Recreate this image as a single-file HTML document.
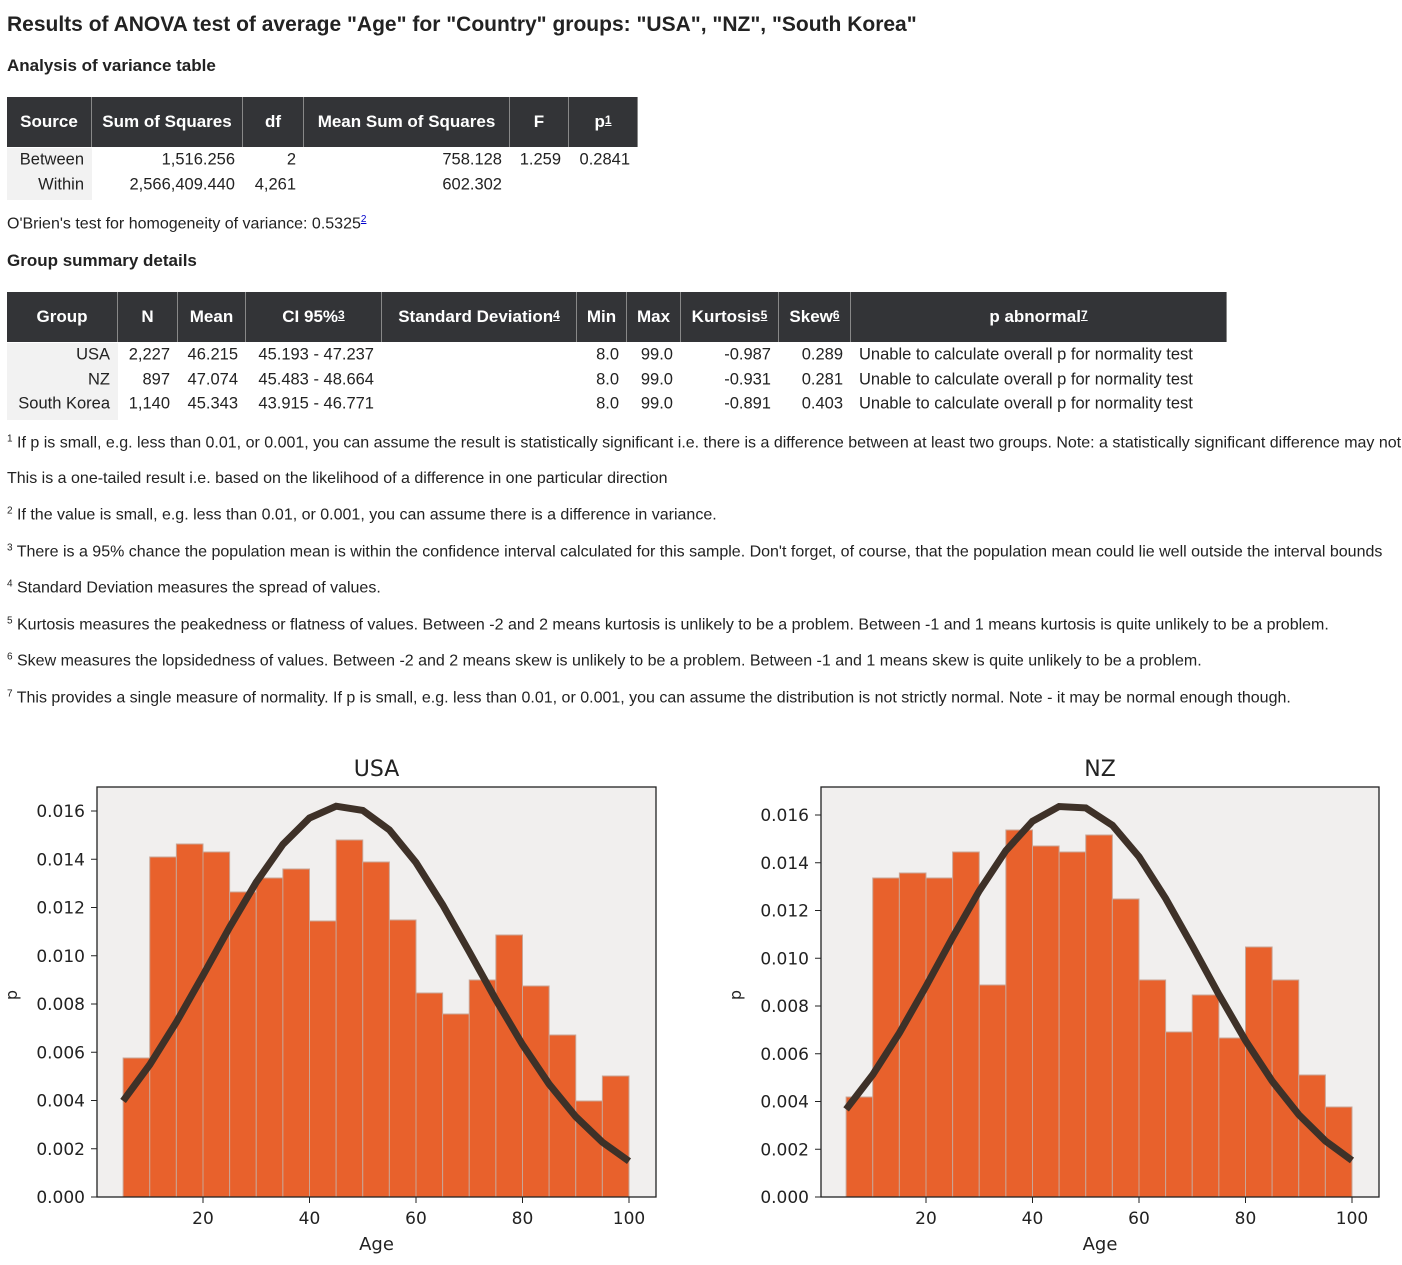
<!DOCTYPE html>
<html><head><meta charset="utf-8"><style>
body{margin:0;width:1402px;height:1265px;background:#fff;position:relative;font-family:"Liberation Sans","DejaVu Sans",sans-serif;color:#222;overflow:hidden}
.a{position:absolute;white-space:nowrap}
.h{background:#333437;color:#fff;font-weight:bold;font-size:17px;position:absolute;display:flex;align-items:center;justify-content:center;box-sizing:border-box;border-right:1px solid #888}
.h sup{font-size:12px;text-decoration:underline;position:relative;top:-2px}
.c{position:absolute;font-size:16.5px;white-space:nowrap;text-align:right;transform:translateY(-50%)}
.f{position:absolute;left:7px;font-size:16px;white-space:nowrap;transform:translateY(-50%)}
sup{font-size:10px}
svg text{font-family:"DejaVu Sans",sans-serif}
</style></head><body>
<div class="a" style="left:7px;top:13px;font-size:21px;font-weight:bold">Results of ANOVA test of average "Age" for "Country" groups: "USA", "NZ", "South Korea"</div>
<div class="a" style="left:7px;top:56px;font-size:17px;font-weight:bold">Analysis of variance table</div>
<div class="a" style="left:7px;top:251px;font-size:17px;font-weight:bold">Group summary details</div>

<div id="t1"></div>
<div class="a" style="left:7px;top:214px;font-size:16px">O'Brien's test for homogeneity of variance: 0.5325<sup style="color:#00c;text-decoration:underline">2</sup></div>

<div class="f" style="top:443px"><sup>1</sup> If p is small, e.g. less than 0.01, or 0.001, you can assume the result is statistically significant i.e. there is a difference between at least two groups. Note: a statistically significant difference may not</div>
<div class="f" style="top:479px">This is a one-tailed result i.e. based on the likelihood of a difference in one particular direction</div>
<div class="f" style="top:515px"><sup>2</sup> If the value is small, e.g. less than 0.01, or 0.001, you can assume there is a difference in variance.</div>
<div class="f" style="top:552px"><sup>3</sup> There is a 95% chance the population mean is within the confidence interval calculated for this sample. Don't forget, of course, that the population mean could lie well outside the interval bounds</div>
<div class="f" style="top:588px"><sup>4</sup> Standard Deviation measures the spread of values.</div>
<div class="f" style="top:625px"><sup>5</sup> Kurtosis measures the peakedness or flatness of values. Between -2 and 2 means kurtosis is unlikely to be a problem. Between -1 and 1 means kurtosis is quite unlikely to be a problem.</div>
<div class="f" style="top:661px"><sup>6</sup> Skew measures the lopsidedness of values. Between -2 and 2 means skew is unlikely to be a problem. Between -1 and 1 means skew is quite unlikely to be a problem.</div>
<div class="f" style="top:698px"><sup>7</sup> This provides a single measure of normality. If p is small, e.g. less than 0.01, or 0.001, you can assume the distribution is not strictly normal. Note - it may be normal enough though.</div>

<svg id="ch" class="a" style="left:0;top:0" width="1402" height="1265"></svg>

<script>
function tbl(top,edges,heads,rows,rowY,bgW){
 let s='';
 s+=`<div style="position:absolute;left:7px;top:${top+51}px;width:${bgW-7}px;height:${rows.length*24.5+3}px;background:#f2f2f2"></div>`;
 for(let i=0;i<heads.length;i++)s+=`<div class="h" style="left:${edges[i]}px;top:${top}px;width:${edges[i+1]-edges[i]}px;height:50px">${heads[i]}</div>`;
 rows.forEach((r,ri)=>{r.forEach((v,ci)=>{ if(v==='')return;
  let al=v.startsWith('Unable');
  if(al) s+=`<div class="c" style="left:${edges[ci]+8}px;top:${rowY[ri]}px;text-align:left">${v}</div>`;
  else s+=`<div class="c" style="right:${1402-edges[ci+1]+8}px;top:${rowY[ri]}px">${v}</div>`;});});
 return s;}
let h=tbl(97,[7,92,243,304,510,569,638],['Source','Sum of Squares','df','Mean Sum of Squares','F','p<sup>1</sup>'],
 [['Between','1,516.256','2','758.128','1.259','0.2841'],['Within','2,566,409.440','4,261','602.302','','']],[160,185],92);
h+=tbl(292,[7,118,178,246,382,577,627,681,779,851,1227],['Group','N','Mean','CI 95%<sup>3</sup>','Standard Deviation<sup>4</sup>','Min','Max','Kurtosis<sup>5</sup>','Skew<sup>6</sup>','p abnormal<sup>7</sup>'],
 [['USA','2,227','46.215','45.193 - 47.237','','8.0','99.0','-0.987','0.289','Unable to calculate overall p for normality test'],
  ['NZ','897','47.074','45.483 - 48.664','','8.0','99.0','-0.931','0.281','Unable to calculate overall p for normality test'],
  ['South Korea','1,140','45.343','43.915 - 46.771','','8.0','99.0','-0.891','0.403','Unable to calculate overall p for normality test']],[355,380,404],118);
document.getElementById('t1').innerHTML=h;

function chart(L,R,x20,x100,y0,y16,tops,mean,sd,title){
 const T=787,B=1197,k=(x100-x20)/80,X=v=>x20+(v-20)*k,py=(y0-y16)/0.016,Y=p=>y0-p*py;
 let s=`<rect x="${L}" y="${T}" width="${R-L}" height="${B-T}" fill="#f1efee"/>`;
 tops.forEach((t,i)=>{s+=`<rect x="${X(5+5*i)}" y="${t}" width="${k*5}" height="${B-t}" fill="#e8612c" stroke="#c9a595" stroke-width="1"/>`;});
 let pts=[];for(let v=5;v<=100;v+=5){const p=Math.exp(-((v-mean)**2)/(2*sd*sd))/(sd*Math.sqrt(2*Math.PI));pts.push(X(v).toFixed(1)+','+Y(p).toFixed(1));}
 s+=`<polyline points="${pts.join(' ')}" fill="none" stroke="#3e3128" stroke-width="7"/>`;
 s+=`<rect x="${L}" y="${T}" width="${R-L}" height="${B-T}" fill="none" stroke="#222" stroke-width="1.3"/>`;
 for(let i=0;i<=8;i++){const y=Y(i*0.002);s+=`<line x1="${L-6}" x2="${L}" y1="${y}" y2="${y}" stroke="#222"/><text x="${L-12}" y="${y+6}" font-size="17" text-anchor="end" fill="#222">${(i*0.002).toFixed(3)}</text>`;}
 for(let v=20;v<=100;v+=20){const x=X(v);s+=`<line x1="${x}" x2="${x}" y1="${B}" y2="${B+6}" stroke="#222"/><text x="${x}" y="${B+27}" font-size="17" text-anchor="middle" fill="#222">${v}</text>`;}
 s+=`<text x="${(L+R)/2}" y="${B+53}" font-size="18" text-anchor="middle" fill="#222">Age</text>`;
 s+=`<text x="${(L+R)/2}" y="776" font-size="22" text-anchor="middle" fill="#222">${title}</text>`;
 s+=`<text transform="translate(${L-80},995) rotate(-90)" font-size="16" text-anchor="middle" fill="#222">p</text>`;
 return s;}
let svg=chart(97,656,203,629,1197,811,[1058,857,844,852,892,878,869,921,840,862,920,993,1014,980,935,986,1035,1101,1076],46.215,24.6,'USA');
svg+=chart(821,1379,926,1352,1197,815,[1097,878,873,878,852,985,830,846,852,835,899,980,1032,995,1038,947,980,1075,1107],47.074,24.3,'NZ');
document.getElementById('ch').innerHTML=svg;
</script>
</body></html>
